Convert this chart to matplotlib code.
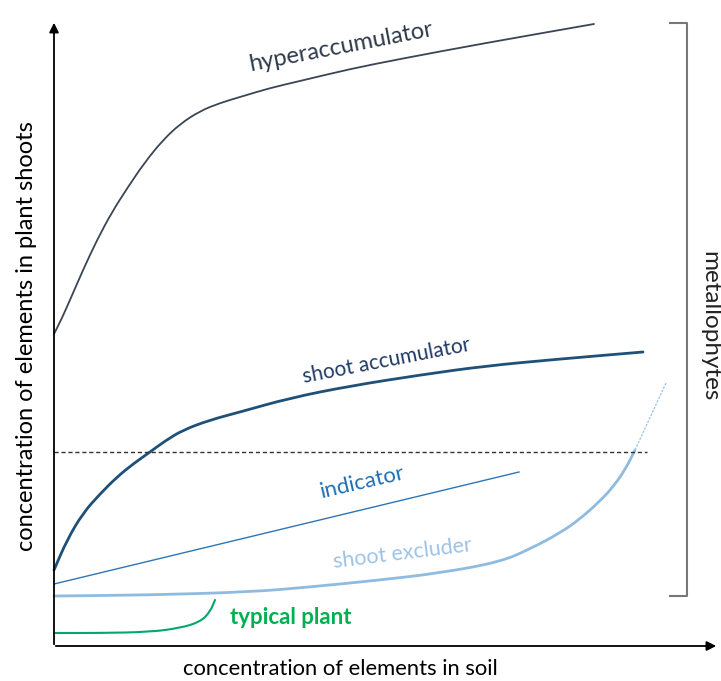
import matplotlib.pyplot as plt
import numpy as np
from matplotlib.path import Path
from matplotlib.patches import PathPatch

plt.rcParams['font.family'] = ['Lato', 'DejaVu Sans']

# curves (x: soil concentration, y: shoot concentration, arbitrary units)
hyper_x = [0, 8, 16, 29, 43, 58, 74, 91, 109, 126, 146, 166, 186, 216, 246, 296, 346, 426, 540]
hyper_y = [312, 328, 346, 376, 406, 434, 459, 484, 506, 522, 535, 543, 549, 558, 565, 577, 587, 602, 622]

accum_x = [0, 13, 29, 46, 63, 79, 96, 111, 129, 156, 186, 236, 296, 366, 431, 506, 589]
accum_y = [76, 106, 133, 152, 169, 182, 194, 205, 216, 226, 234, 248, 260, 271, 280, 287, 294]

indicator_x = [0, 465]
indicator_y = [62, 174]

excluder_x = [0, 96, 196, 256, 326, 386, 446, 476, 506, 526, 546, 559, 571, 581]
excluder_y = [50, 51, 54, 59, 66, 73, 84, 97, 113, 127, 145, 159, 176, 196]
excluder_dot_x = [581, 612]
excluder_dot_y = [196, 263]

typical_x = [0, 46, 96, 126, 146, 156, 161]
typical_y = [13, 13, 14, 18, 24, 34, 46]

threshold_y = 194
threshold_x_end = 593


def smooth_curve(ax, xs, ys, **kw):
    # quadratic bezier through the midpoints, the read points act as control points
    pts = np.column_stack([xs, ys]).astype(float)
    verts = [pts[0], (pts[0] + pts[1]) / 2]
    codes = [Path.MOVETO, Path.LINETO]
    for i in range(1, len(pts) - 1):
        verts += [pts[i], (pts[i] + pts[i + 1]) / 2]
        codes += [Path.CURVE3, Path.CURVE3]
    verts.append(pts[-1])
    codes.append(Path.LINETO)
    ax.add_patch(PathPatch(Path(verts, codes), fill=False, capstyle='round', **kw))


fig = plt.figure(figsize=(7.21, 6.81), dpi=100)
ax = fig.add_axes([0, 0, 1, 1])
ax.set_xlim(-54, 667)
ax.set_ylim(-35, 646)
ax.axis('off')

# axes arrows
ax.annotate('', xy=(0, 626), xytext=(0, -1),
            arrowprops=dict(arrowstyle='-|>', color='black', lw=1.3, mutation_scale=14))
ax.annotate('', xy=(665, 0), xytext=(-1, 0),
            arrowprops=dict(arrowstyle='-|>', color='black', lw=1.3, mutation_scale=14))

smooth_curve(ax, hyper_x, hyper_y, edgecolor='#3a4656', lw=1.3)
smooth_curve(ax, accum_x, accum_y, edgecolor='#1f5078', lw=2.0)
ax.plot(indicator_x, indicator_y, color='#2e75b6', lw=1.0)
smooth_curve(ax, excluder_x, excluder_y, edgecolor='#8fbbe0', lw=2.0)
ax.plot(excluder_dot_x, excluder_dot_y, color='#9dc3e6', lw=0.9, ls=(0, (2, 1)))
smooth_curve(ax, typical_x, typical_y, edgecolor='#00a86b', lw=1.5)
ax.plot([0, threshold_x_end], [threshold_y, threshold_y], color='#333333', lw=1.0, ls=(0, (3, 2)))

# bracket for metallophytes
ax.plot([616, 633, 633, 616], [623, 623, 50, 50], color='#777777', lw=1.5)

ax.text(287, 599, 'hyperaccumulator', color='#2e3a4a', fontsize=17, rotation=11,
        ha='center', va='center')
ax.text(333, 285, 'shoot accumulator', color='#1f3a64', fontsize=15, rotation=11,
        ha='center', va='center')
ax.text(308, 164, 'indicator', color='#1f6fb5', fontsize=16, rotation=13,
        ha='center', va='center')
ax.text(349, 92, 'shoot excluder', color='#9dc3e6', fontsize=15.5, rotation=7,
        ha='center', va='center')
ax.text(237, 28, 'typical plant', color='#00b050', fontsize=16, fontweight='bold',
        ha='center', va='center')
ax.text(656, 320, 'metallophytes', color='#222222', fontsize=17.5, rotation=-90,
        ha='center', va='center')

ax.text(286, -23, 'concentration of elements in soil', color='black', fontsize=15.8,
        ha='center', va='center')
ax.text(-27, 310, 'concentration of elements in plant shoots', color='black', fontsize=17,
        rotation=90, ha='center', va='center')

fig.savefig('out.png', dpi=100)
